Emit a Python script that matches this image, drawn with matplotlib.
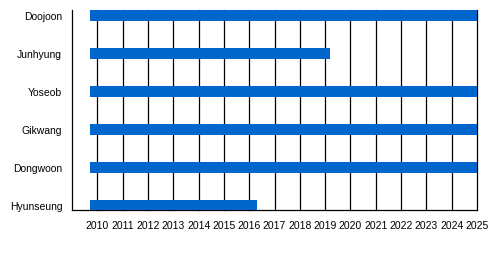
import matplotlib.pyplot as plt

plt.rcParams['font.family'] = ['Liberation Sans', 'DejaVu Sans']

# members top to bottom, with start / end of activity (decimal years)
members = ['Doojoon', 'Junhyung', 'Yoseob', 'Gikwang', 'Dongwoon', 'Hyunseung']
start = [2009.72, 2009.72, 2009.72, 2009.72, 2009.72, 2009.72]
end = [2025, 2019.2, 2025, 2025, 2025, 2016.3]
years = list(range(2010, 2026))

fig = plt.figure(figsize=(5, 2.75), dpi=100)
ax = fig.add_axes([0.144, 0.236, 0.81, 0.728])

n = len(members)
ypos = [n - 1 - i for i in range(n)]
ax.barh(ypos, [e - s for s, e in zip(start, end)], left=start, height=0.29,
        color='#0066cc', zorder=3)

ax.set_xlim(2009, 2025)
ax.set_ylim(-0.12, n - 1 + 0.16)
ax.set_xticks(years)
ax.set_xticklabels([str(y) for y in years])
ax.set_yticks(ypos)
ax.set_yticklabels(members)
ax.tick_params(length=0, labelsize=7.5)
ax.tick_params(axis='x', pad=8)
ax.tick_params(axis='y', pad=7)

ax.grid(axis='x', color='black', linewidth=0.9, zorder=1)
ax.set_axisbelow(True)
for line in ax.get_xgridlines():
    line.set_clip_on(False)
for side in ['top', 'right']:
    ax.spines[side].set_visible(False)
for side in ['left', 'bottom']:
    ax.spines[side].set_linewidth(0.9)

fig.savefig('out.png', dpi=100)
